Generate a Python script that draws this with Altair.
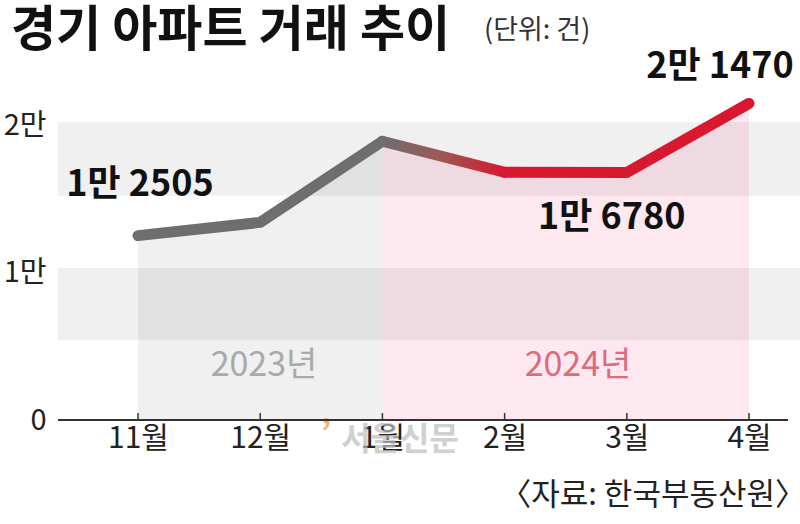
import altair as alt
import pandas as pd

# ---- data ----
months = ["11월", "12월", "1월", "2월", "3월", "4월"]
values = [12505, 13400, 18900, 16800, 16780, 21470]
y_ticks = [0, 10000, 20000]
y_tick_labels = ["0", "1만", "2만"]
band_lo = [5400, 15200]
band_hi = [10300, 20200]
value_label_idx = [0, 4, 5]
value_label_text = ["1만 2505", "1만 6780", "2만 1470"]
year_labels = ["2023년", "2024년"]
title_text = "경기 아파트 거래 추이"
unit_text = "(단위: 건)"
source_text = "〈자료: 한국부동산원〉"
watermark_text = "서울신문"

FONT = "Noto Sans CJK KR"
GRAY = "#6e6e6e"
RED = "#d7182f"

idx = list(range(len(months)))
df = pd.DataFrame({"i": idx, "month": months, "v": values})

x_scale = alt.Scale(domain=[-0.6547, 5.4173], nice=False, zero=False)
y_scale = alt.Scale(domain=[0, 21700], nice=False, zero=False)

label_expr_x = "[" + ",".join("'" + m + "'" for m in months) + "][datum.value]"
label_expr_y = "{" + ",".join("'%d':'%s'" % (t, l) for t, l in zip(y_ticks, y_tick_labels)) + "}[datum.value]"

x_axis = alt.Axis(values=idx, labelExpr=label_expr_x, grid=False, domain=False,
                  ticks=False, labelFontSize=30, labelColor="#222", labelFont=FONT,
                  labelPadding=3, title=None, labelFlush=False)
y_axis = alt.Axis(values=y_ticks, labelExpr=label_expr_y, grid=False, domain=False,
                  ticks=False, labelFontSize=29, labelColor="#222", labelFont=FONT,
                  labelPadding=12, title=None, labelFlush=False)


def X(field="i"):
    return alt.X(field + ":Q", scale=x_scale, axis=x_axis, title=None)


def Y(field="v"):
    return alt.Y(field + ":Q", scale=y_scale, axis=y_axis, title=None)


base = alt.Chart(df)

# areas under the line
area_2023 = base.transform_filter("datum.i <= 2").mark_area(color="#f0f0f0", opacity=1).encode(
    x=X(), y=Y(), y2=alt.datum(0))
area_2024 = base.transform_filter("datum.i >= 2").mark_area(color="#fde8ef", opacity=1).encode(
    x=X(), y=Y(), y2=alt.datum(0))

# horizontal bands
bands_df = pd.DataFrame({"lo": band_lo, "hi": band_hi})
bands = alt.Chart(bands_df).mark_rect(color="#000000", opacity=0.06).encode(
    x=alt.value(0), x2=alt.value(742),
    y=Y("lo"), y2="hi:Q")

# year labels
years_df = pd.DataFrame({"t": year_labels})
year_2023 = alt.Chart(years_df.iloc[[0]]).mark_text(font=FONT, fontSize=34, color="#a9a9a9",
                                                     align="center", baseline="middle").encode(
    text="t:N", x=alt.value(206), y=alt.value(266))
year_2024 = alt.Chart(years_df.iloc[[1]]).mark_text(font=FONT, fontSize=34, color="#dc6b7b",
                                                     align="center", baseline="middle").encode(
    text="t:N", x=alt.value(520), y=alt.value(266))

# line segments
line_gray = base.transform_filter("datum.i <= 2").mark_line(color=GRAY, strokeWidth=11, strokeCap="round",
                                                             strokeJoin="round").encode(x=X(), y=Y())
line_grad = base.transform_filter("datum.i >= 2 && datum.i <= 3").mark_line(
    color=alt.Gradient(gradient="linear",
                       stops=[alt.GradientStop(color=GRAY, offset=0),
                              alt.GradientStop(color="#9a5a58", offset=0.45),
                              alt.GradientStop(color=RED, offset=1)],
                       x1=0, x2=1, y1=0, y2=0),
    strokeWidth=11, strokeCap="round", strokeJoin="round").encode(x=X(), y=Y())
line_red = base.transform_filter("datum.i >= 3").mark_line(color=RED, strokeWidth=11, strokeCap="round",
                                                            strokeJoin="round").encode(x=X(), y=Y())

# value labels
lab_df = pd.DataFrame({"i": value_label_idx, "v": [values[k] for k in value_label_idx], "t": value_label_text})
offsets = [(2, -51), (-15, 45), (-29, -36)]
value_labels = []
for k in range(len(value_label_idx)):
    dx, dy = offsets[k]
    value_labels.append(
        alt.Chart(lab_df.iloc[[k]]).mark_text(font=FONT, fontSize=36, fontWeight="bold", color="#111",
                                              align="center", baseline="middle", dx=dx, dy=dy).encode(
            x=X(), y=Y(), text="t:N"))

# axis line and upward ticks
axis_line = alt.Chart(df.iloc[[0]]).mark_rule(color="#333", strokeWidth=2).encode(
    x=alt.value(0), x2=alt.value(730), y=alt.value(320))
ticks = base.mark_rule(color="#333", strokeWidth=1.5).encode(
    x=X(), y=alt.value(313), y2=alt.value(320))

# texts
txt = pd.DataFrame({"t": [title_text, unit_text, source_text, watermark_text, "’"]})
title = alt.Chart(txt.iloc[[0]]).mark_text(font=FONT, fontSize=49, fontWeight="bold", color="#111",
                                           align="left", baseline="middle").encode(
    text="t:N", x=alt.value(-47), y=alt.value(-69))
unit = alt.Chart(txt.iloc[[1]]).mark_text(font=FONT, fontSize=27, color="#333",
                                          align="left", baseline="middle").encode(
    text="t:N", x=alt.value(426), y=alt.value(-69))
source = alt.Chart(txt.iloc[[2]]).mark_text(font=FONT, fontSize=31, color="#222",
                                            align="right", baseline="middle").encode(
    text="t:N", x=alt.value(748), y=alt.value(396))
watermark = alt.Chart(txt.iloc[[3]]).mark_text(font=FONT, fontSize=32, fontWeight="bold", color="#bdbdbd",
                                               opacity=0.7, align="center", baseline="middle").encode(
    text="t:N", x=alt.value(342), y=alt.value(340))
wm_mark = alt.Chart(txt.iloc[[4]]).mark_text(font=FONT, fontSize=34, fontWeight="bold", color="#f0b070",
                                             align="center", baseline="middle").encode(
    text="t:N", x=alt.value(268), y=alt.value(335))

chart = alt.layer(
    area_2023, area_2024, bands, year_2023, year_2024,
    watermark, wm_mark,
    line_gray, line_grad, line_red,
    *value_labels, axis_line, ticks, title, unit, source
).properties(
    width=742, height=320,
    padding={"left": 58, "top": 100, "right": 0, "bottom": 104},
    autosize=alt.AutoSizeParams(type="none"),
    background="white",
).configure_view(stroke=None)

chart.save("out.html", embed_options={"renderer": "svg", "actions": False})
